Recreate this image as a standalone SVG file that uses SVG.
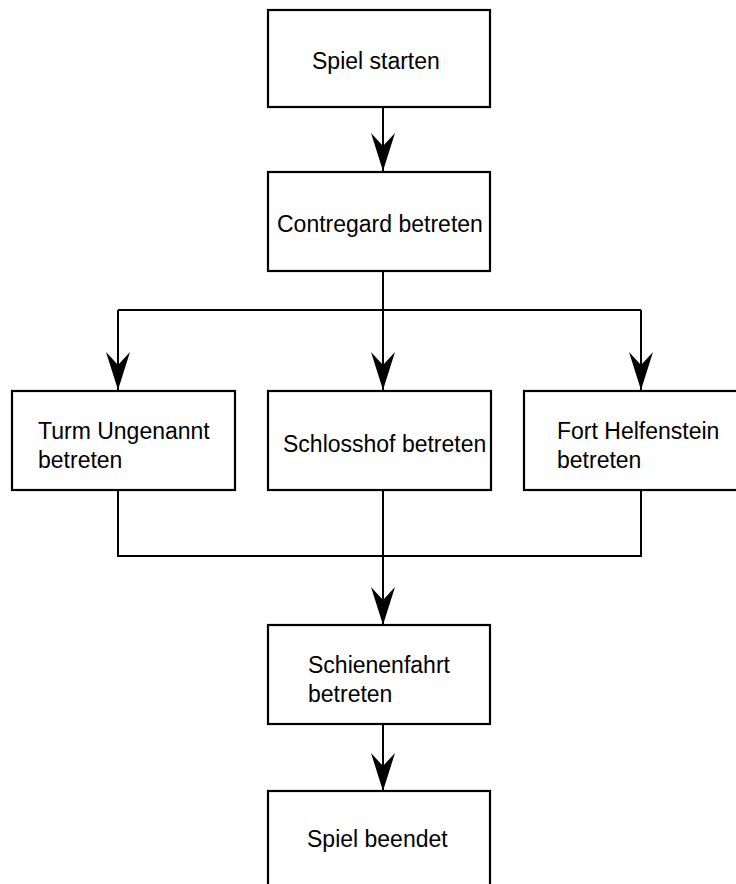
<svg xmlns="http://www.w3.org/2000/svg" width="736" height="884" viewBox="0 0 736 884">
  <style>
    .box { fill: #ffffff; stroke: #000000; stroke-width: 2.2; }
    .label { font-family: "Liberation Sans", Arial, sans-serif; font-size: 23px; fill: #000000; }
    .wire { fill: none; stroke: #000000; stroke-width: 2; }
  </style>
  <defs>
    <marker id="arrowhead" markerUnits="userSpaceOnUse" markerWidth="40" markerHeight="26" refX="38" refY="12" orient="auto">
      <path d="M0,0 L38,12 L0,24 L13,12 Z" fill="#000000"/>
    </marker>
  </defs>

  <g id="connectors">
    <path class="wire" d="M383,107 L383,171" marker-end="url(#arrowhead)"/>
    <path class="wire" d="M383,271 L383,310 M118,310 L641,310"/>
    <path class="wire" d="M118,310 L118,390" marker-end="url(#arrowhead)"/>
    <path class="wire" d="M383,310 L383,390" marker-end="url(#arrowhead)"/>
    <path class="wire" d="M641,310 L641,390" marker-end="url(#arrowhead)"/>
    <path class="wire" d="M118,490 L118,556 L641,556 L641,488"/>
    <path class="wire" d="M383,490 L383,625" marker-end="url(#arrowhead)"/>
    <path class="wire" d="M383,724 L383,791" marker-end="url(#arrowhead)"/>
  </g>

  <g id="spiel-starten">
    <rect class="box" x="268" y="10" width="222" height="97"/>
    <text class="label" x="312" y="69">Spiel starten</text>
  </g>

  <g id="contregard">
    <rect class="box" x="268" y="172" width="222" height="99"/>
    <text class="label" x="277" y="232">Contregard betreten</text>
  </g>

  <g id="turm-ungenannt">
    <rect class="box" x="12" y="391" width="223" height="99"/>
    <text class="label" x="38" y="439">Turm Ungenannt</text>
    <text class="label" x="38" y="468">betreten</text>
  </g>

  <g id="schlosshof">
    <rect class="box" x="268" y="391" width="223" height="99"/>
    <text class="label" x="283" y="452">Schlosshof betreten</text>
  </g>

  <g id="fort-helfenstein">
    <rect class="box" x="524" y="391" width="232" height="99"/>
    <text class="label" x="557" y="439">Fort Helfenstein</text>
    <text class="label" x="557" y="468">betreten</text>
  </g>

  <g id="schienenfahrt">
    <rect class="box" x="268" y="625" width="222" height="99"/>
    <text class="label" x="308" y="673">Schienenfahrt</text>
    <text class="label" x="308" y="702">betreten</text>
  </g>

  <g id="spiel-beendet">
    <rect class="box" x="268" y="791" width="222" height="120"/>
    <text class="label" x="307" y="847">Spiel beendet</text>
  </g>
</svg>
